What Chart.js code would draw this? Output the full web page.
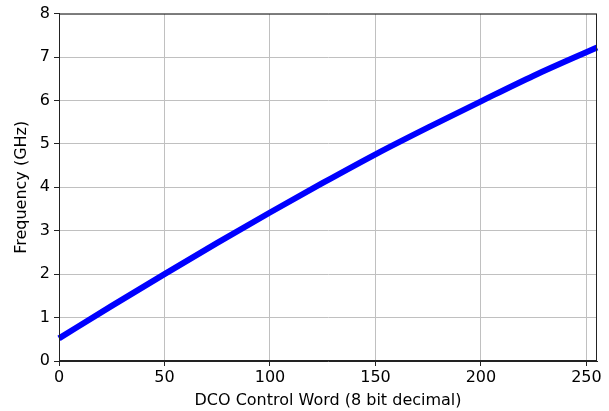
<!DOCTYPE html>
<html>
<head>
<meta charset="utf-8">
<script src="https://cdn.jsdelivr.net/npm/chart.js@4/dist/chart.umd.min.js"></script>
<style>
  html, body { margin: 0; padding: 0; background: #fff; }
  #wrap { width: 609px; height: 411px; }
</style>
</head>
<body>
<div id="wrap"><canvas id="dcoChart"></canvas></div>
<script>
// DCO control word vs output frequency
const controlWords = [0, 25, 50, 75, 100, 125, 150, 175, 200, 225, 255];
const frequencyGHz = [0.52, 1.27, 2.0, 2.72, 3.42, 4.10, 4.76, 5.38, 5.98, 6.57, 7.22];
const xTicks = [0, 50, 100, 150, 200, 250];
const yTicks = [0, 1, 2, 3, 4, 5, 6, 7, 8];

const points = controlWords.map((w, i) => ({ x: w, y: frequencyGHz[i] }));

// matplotlib-like frame on all four sides
const framePlugin = {
    id: "frame",
    afterDraw(chart) {
        const { ctx, chartArea } = chart;
        ctx.save();
        ctx.strokeStyle = "#222";
        ctx.lineWidth = 1;
        ctx.strokeRect(chartArea.left + 0.5, chartArea.top + 0.5,
            chartArea.right - chartArea.left - 1, chartArea.bottom - chartArea.top - 1);
        ctx.restore();
    },
};

const font = { family: "DejaVu Sans", size: 16 };

new Chart(document.getElementById("dcoChart").getContext("2d"), {
    type: "line",
    data: {
        datasets: [
            {
                data: points,
                borderColor: "#0000ff",
                borderWidth: 6,
                pointRadius: 0,
                fill: false,
                cubicInterpolationMode: "monotone",
            },
        ],
    },
    options: {
        responsive: true,
        maintainAspectRatio: false,
        animation: false,
        clip: false,
        layout: { padding: { top: 12, right: 12, left: 0, bottom: 0 } },
        plugins: {
            legend: { display: false },
            tooltip: { enabled: false },
        },
        scales: {
            x: {
                type: "linear",
                min: 0,
                max: 255,
                afterFit: (s) => { s.height = 50; },
                afterBuildTicks: (s) => { s.ticks = xTicks.map((v) => ({ value: v })); },
                ticks: { color: "#000", font, padding: 2, includeBounds: false },
                grid: { color: "#c0c0c0", tickColor: "#222", tickLength: 5 },
                border: { color: "#222" },
                title: { display: true, text: "DCO Control Word (8 bit decimal)", color: "#000", font, padding: { top: 4, bottom: 1 } },
            },
            y: {
                min: 0,
                max: 8,
                afterFit: (s) => { s.width = 59; },
                afterBuildTicks: (s) => { s.ticks = yTicks.map((v) => ({ value: v })); },
                ticks: { color: "#000", font, padding: 4 },
                grid: { color: "#c0c0c0", tickColor: "#222", tickLength: 5 },
                border: { color: "#222" },
                title: { display: true, text: "Frequency (GHz)", color: "#000", font, padding: { top: 12, bottom: 4 } },
            },
        },
    },
    plugins: [framePlugin],
});
</script>
</body>
</html>
